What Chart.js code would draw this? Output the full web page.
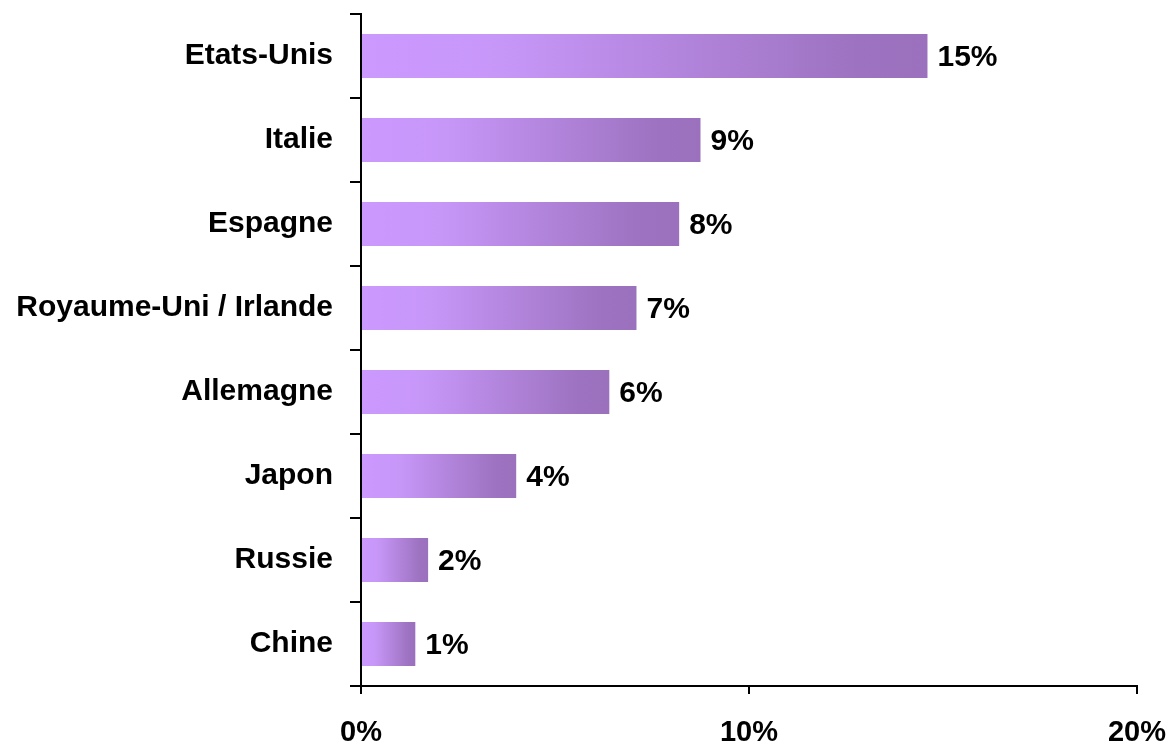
<!DOCTYPE html>
<html>
<head>
<meta charset="utf-8">
<script src="https://cdn.jsdelivr.net/npm/chart.js@4.4.1/dist/chart.umd.min.js"></script>
<style>
  html, body { margin: 0; padding: 0; background: #fff; }
  #wrap { width: 1172px; height: 745px; }
</style>
</head>
<body>
<div id="wrap"><canvas id="chart" width="1172" height="745"></canvas></div>
<script>
const countries = ["Etats-Unis", "Italie", "Espagne", "Royaume-Uni / Irlande", "Allemagne", "Japon", "Russie", "Chine"];
const shares = [14.6, 8.75, 8.2, 7.1, 6.4, 4.0, 1.73, 1.4];
const xTicks = [0, 10, 20];

const FONT = "'Liberation Sans', Arial, Helvetica, sans-serif";

function barGradient(context) {
    const chart = context.chart;
    const xScale = chart.scales.x;
    if (!xScale || context.parsed === undefined) return "#b48ae0";
    const x0 = xScale.getPixelForValue(0);
    const x1 = xScale.getPixelForValue(context.parsed.x);
    if (!isFinite(x0) || !isFinite(x1) || x1 <= x0) return "#b48ae0";
    const g = chart.ctx.createLinearGradient(x0, 0, x1, 0);
    g.addColorStop(0, "#cc99ff");
    g.addColorStop(0.25, "#c797f8");
    g.addColorStop(0.88, "#9d72c0");
    g.addColorStop(1, "#9b71be");
    return g;
}

// draw the percent labels right of each bar
const valueLabels = {
    id: "valueLabels",
    afterDatasetsDraw(chart) {
        const ctx = chart.ctx;
        const meta = chart.getDatasetMeta(0);
        ctx.save();
        ctx.font = "bold 30px " + FONT;
        ctx.fillStyle = "#000";
        ctx.textAlign = "left";
        ctx.textBaseline = "middle";
        meta.data.forEach((bar, i) => {
            ctx.fillText(Math.round(shares[i]) + "%", bar.x + 10, bar.y + 2);
        });
        ctx.restore();
    }
};

new Chart(document.getElementById("chart").getContext("2d"), {
    type: "bar",
    data: {
        labels: countries,
        datasets: [{
            data: shares,
            backgroundColor: barGradient,
            borderWidth: 0,
            categoryPercentage: 1,
            barPercentage: 0.524
        }]
    },
    options: {
        indexAxis: "y",
        responsive: false,
        animation: false,
        layout: { padding: { top: 14, right: 35, left: 0, bottom: 0 } },
        plugins: {
            legend: { display: false },
            tooltip: { enabled: false }
        },
        scales: {
            x: {
                min: 0,
                max: 20,
                afterBuildTicks: scale => { scale.ticks = xTicks.map(v => ({ value: v })); },
                afterFit: scale => {
                    scale.height = 59;
                    scale.paddingLeft = 0;
                    scale.paddingRight = 0;
                },
                grid: { drawOnChartArea: false, tickLength: 8, color: "#000", lineWidth: 2 },
                border: { color: "#000", width: 2 },
                ticks: {
                    padding: 22,
                    color: "#000",
                    font: { family: FONT, size: 29, weight: "bold" },
                    callback: v => v + "%",
                    maxRotation: 0
                }
            },
            y: {
                afterFit: scale => {
                    scale.width = 361;
                    scale.paddingTop = 0;
                    scale.paddingBottom = 0;
                },
                grid: { drawOnChartArea: false, offset: true, tickLength: 11, color: "#000", lineWidth: 2 },
                border: { color: "#000", width: 2 },
                ticks: {
                    padding: 17,
                    color: "#000",
                    font: { family: FONT, size: 30, weight: "bold" }
                }
            }
        }
    },
    plugins: [valueLabels]
});
</script>
</body>
</html>
